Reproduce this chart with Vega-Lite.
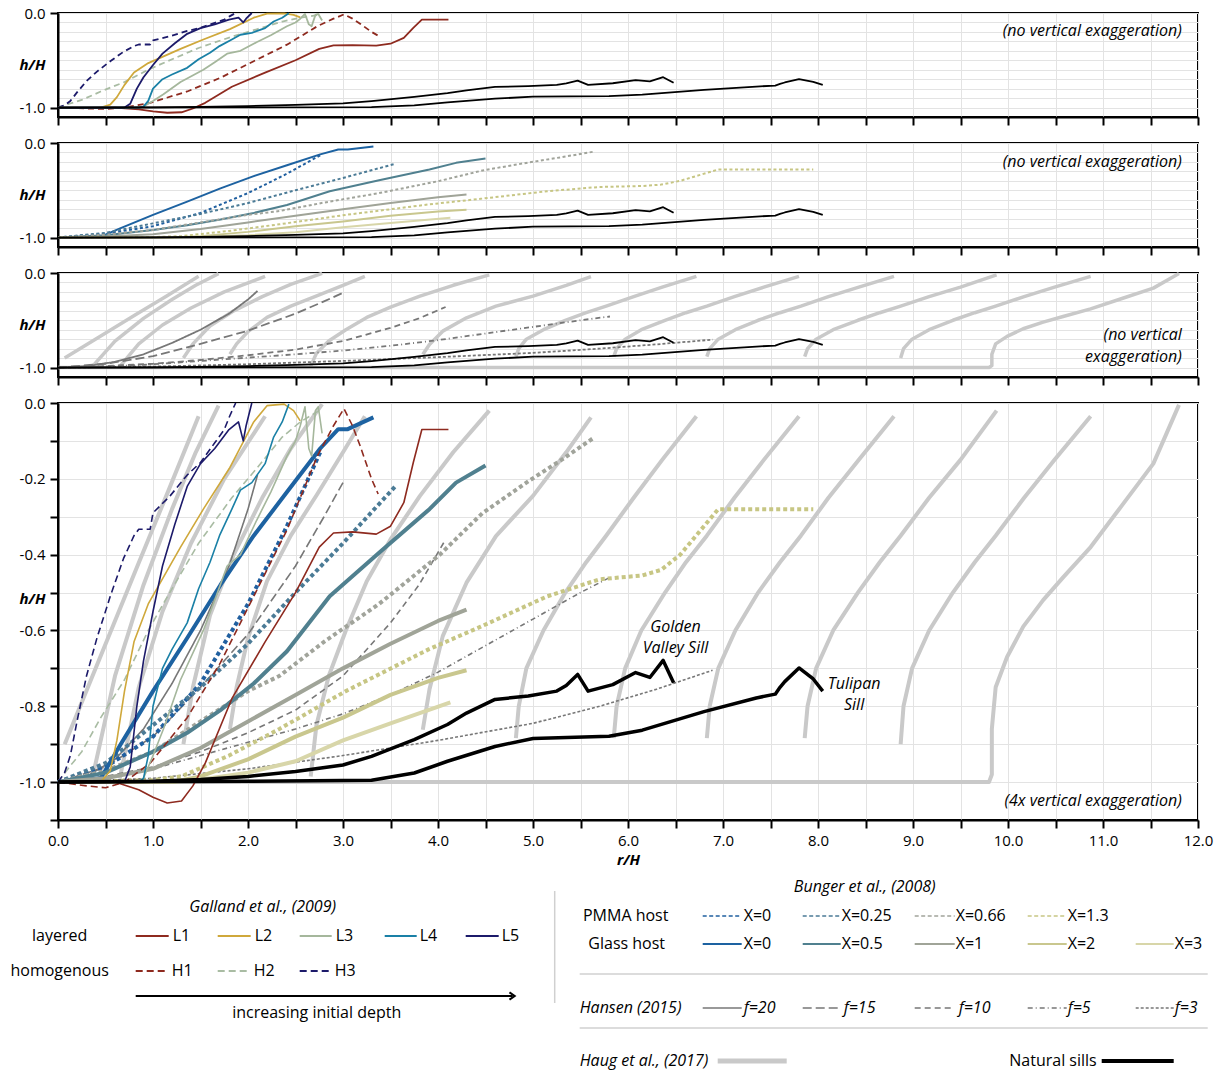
{
"$schema": "https://vega.github.io/schema/vega-lite/v6.json",
"background": "white",
"padding": {"left": 10, "top": 5, "right": 5, "bottom": 0},
"spacing": 8,
"resolve": {"scale": {"x": "independent", "y": "independent"}},
"config": {
  "font": "Open Sans",
  "view": {"stroke": "black", "strokeWidth": 2},
  "axis": {"domainColor": "black", "domainWidth": 2, "tickColor": "black", "tickWidth": 2, "tickSize": 8, "labelFont": "Open Sans", "labelFontSize": 15, "labelColor": "black", "labelPadding": 5, "labelOverlap": false, "labelFlush": false, "gridColor": "#e3e3e3", "gridWidth": 1, "titleFont": "Open Sans", "titleFontSize": 15, "titleFontStyle": "italic", "titleFontWeight": "bold", "titleColor": "black"},
  "line": {"strokeJoin": "round", "strokeCap": "butt"},
  "text": {"font": "Open Sans", "fontSize": 16, "color": "black"}
},
"datasets": {
"galL": [
{"s":"L1","r":0,"h":-1},{"s":"L1","r":0.6,"h":-1},{"s":"L1","r":0.85,"h":-1.02},{"s":"L1","r":1.0,"h":-1.04},{"s":"L1","r":1.15,"h":-1.055},{"s":"L1","r":1.3,"h":-1.05},{"s":"L1","r":1.42,"h":-1.01},{"s":"L1","r":1.55,"h":-0.95},{"s":"L1","r":1.83,"h":-0.78},{"s":"L1","r":2.18,"h":-0.63},{"s":"L1","r":2.5,"h":-0.5},{"s":"L1","r":2.75,"h":-0.38},{"s":"L1","r":2.9,"h":-0.343},{"s":"L1","r":3.1,"h":-0.34},{"s":"L1","r":3.35,"h":-0.346},{"s":"L1","r":3.5,"h":-0.325},{"s":"L1","r":3.64,"h":-0.263},{"s":"L1","r":3.74,"h":-0.157},{"s":"L1","r":3.83,"h":-0.07},{"s":"L1","r":4.11,"h":-0.07},
{"s":"L2","r":0,"h":-1},{"s":"L2","r":0.45,"h":-1},{"s":"L2","r":0.55,"h":-0.97},{"s":"L2","r":0.62,"h":-0.89},{"s":"L2","r":0.7,"h":-0.76},{"s":"L2","r":0.8,"h":-0.63},{"s":"L2","r":0.95,"h":-0.53},{"s":"L2","r":1.29,"h":-0.38},{"s":"L2","r":1.53,"h":-0.28},{"s":"L2","r":1.81,"h":-0.17},{"s":"L2","r":2.06,"h":-0.05},{"s":"L2","r":2.2,"h":-0.007},{"s":"L2","r":2.38,"h":-0.003},{"s":"L2","r":2.48,"h":-0.02},{"s":"L2","r":2.55,"h":-0.047},
{"s":"L3","r":0,"h":-1},{"s":"L3","r":0.8,"h":-1},{"s":"L3","r":0.9,"h":-0.99},{"s":"L3","r":1.0,"h":-0.93},{"s":"L3","r":1.11,"h":-0.86},{"s":"L3","r":1.29,"h":-0.73},{"s":"L3","r":1.53,"h":-0.6},{"s":"L3","r":1.65,"h":-0.52},{"s":"L3","r":1.78,"h":-0.43},{"s":"L3","r":1.92,"h":-0.4},{"s":"L3","r":2.09,"h":-0.31},{"s":"L3","r":2.24,"h":-0.235},{"s":"L3","r":2.41,"h":-0.14},{"s":"L3","r":2.5,"h":-0.1},{"s":"L3","r":2.55,"h":-0.06},{"s":"L3","r":2.6,"h":-0.01},{"s":"L3","r":2.64,"h":-0.12},{"s":"L3","r":2.67,"h":-0.14},{"s":"L3","r":2.71,"h":-0.02},{"s":"L3","r":2.74,"h":-0.01},{"s":"L3","r":2.78,"h":-0.08},
{"s":"L4","r":0,"h":-1},{"s":"L4","r":0.85,"h":-1},{"s":"L4","r":0.9,"h":-0.99},{"s":"L4","r":0.95,"h":-0.93},{"s":"L4","r":1.0,"h":-0.8},{"s":"L4","r":1.1,"h":-0.7},{"s":"L4","r":1.2,"h":-0.65},{"s":"L4","r":1.36,"h":-0.58},{"s":"L4","r":1.48,"h":-0.49},{"s":"L4","r":1.6,"h":-0.42},{"s":"L4","r":1.7,"h":-0.35},{"s":"L4","r":1.83,"h":-0.28},{"s":"L4","r":1.92,"h":-0.23},{"s":"L4","r":2.04,"h":-0.21},{"s":"L4","r":2.18,"h":-0.16},{"s":"L4","r":2.27,"h":-0.09},{"s":"L4","r":2.36,"h":-0.05},{"s":"L4","r":2.43,"h":-0.003},
{"s":"L5","r":0,"h":-1},{"s":"L5","r":0.7,"h":-1},{"s":"L5","r":0.76,"h":-0.96},{"s":"L5","r":0.83,"h":-0.8},{"s":"L5","r":0.9,"h":-0.68},{"s":"L5","r":1.0,"h":-0.55},{"s":"L5","r":1.1,"h":-0.43},{"s":"L5","r":1.23,"h":-0.32},{"s":"L5","r":1.36,"h":-0.22},{"s":"L5","r":1.5,"h":-0.16},{"s":"L5","r":1.65,"h":-0.12},{"s":"L5","r":1.8,"h":-0.07},{"s":"L5","r":1.9,"h":-0.05},{"s":"L5","r":1.95,"h":-0.1},{"s":"L5","r":1.98,"h":-0.06},{"s":"L5","r":2.04,"h":0}
],
"galH": [
{"s":"H1","r":0,"h":-1},{"s":"H1","r":0.3,"h":-1.01},{"s":"H1","r":0.5,"h":-1.015},{"s":"H1","r":0.7,"h":-1.0},{"s":"H1","r":0.97,"h":-0.95},{"s":"H1","r":1.36,"h":-0.83},{"s":"H1","r":1.71,"h":-0.685},{"s":"H1","r":2.06,"h":-0.51},{"s":"H1","r":2.41,"h":-0.335},{"s":"H1","r":2.73,"h":-0.14},{"s":"H1","r":2.9,"h":-0.06},{"s":"H1","r":3.01,"h":-0.015},{"s":"H1","r":3.1,"h":-0.06},{"s":"H1","r":3.18,"h":-0.113},{"s":"H1","r":3.3,"h":-0.2},{"s":"H1","r":3.37,"h":-0.24},
{"s":"H2","r":0,"h":-1},{"s":"H2","r":0.12,"h":-0.96},{"s":"H2","r":0.25,"h":-0.92},{"s":"H2","r":0.45,"h":-0.83},{"s":"H2","r":0.7,"h":-0.73},{"s":"H2","r":0.95,"h":-0.6},{"s":"H2","r":1.13,"h":-0.52},{"s":"H2","r":1.48,"h":-0.37},{"s":"H2","r":1.83,"h":-0.25},{"s":"H2","r":2.1,"h":-0.17},{"s":"H2","r":2.36,"h":-0.09},{"s":"H2","r":2.55,"h":-0.05},{"s":"H2","r":2.75,"h":-0.02},
{"s":"H3","r":0,"h":-1},{"s":"H3","r":0.07,"h":-0.975},{"s":"H3","r":0.13,"h":-0.93},{"s":"H3","r":0.2,"h":-0.84},{"s":"H3","r":0.3,"h":-0.72},{"s":"H3","r":0.41,"h":-0.62},{"s":"H3","r":0.55,"h":-0.51},{"s":"H3","r":0.69,"h":-0.41},{"s":"H3","r":0.8,"h":-0.35},{"s":"H3","r":0.85,"h":-0.333},{"s":"H3","r":0.97,"h":-0.333},{"s":"H3","r":1.0,"h":-0.29},{"s":"H3","r":1.18,"h":-0.245},{"s":"H3","r":1.36,"h":-0.19},{"s":"H3","r":1.5,"h":-0.157},{"s":"H3","r":1.65,"h":-0.105},{"s":"H3","r":1.75,"h":-0.07},{"s":"H3","r":1.81,"h":-0.033},{"s":"H3","r":1.87,"h":0}
],
"pmma": [
{"s":"P0","r":0,"h":-1},{"s":"P0","r":0.5,"h":-0.96},{"s":"P0","r":1.0,"h":-0.88},{"s":"P0","r":1.5,"h":-0.74},{"s":"P0","r":2.0,"h":-0.53},{"s":"P0","r":2.4,"h":-0.33},{"s":"P0","r":2.76,"h":-0.13},
{"s":"P025","r":0,"h":-1},{"s":"P025","r":0.5,"h":-0.95},{"s":"P025","r":1.0,"h":-0.85},{"s":"P025","r":1.5,"h":-0.75},{"s":"P025","r":2.0,"h":-0.635},{"s":"P025","r":2.5,"h":-0.5},{"s":"P025","r":3.0,"h":-0.37},{"s":"P025","r":3.55,"h":-0.22},
{"s":"P066","r":0,"h":-1},{"s":"P066","r":0.5,"h":-0.97},{"s":"P066","r":1.0,"h":-0.92},{"s":"P066","r":1.5,"h":-0.84},{"s":"P066","r":2.0,"h":-0.76},{"s":"P066","r":2.33,"h":-0.72},{"s":"P066","r":2.8,"h":-0.63},{"s":"P066","r":3.38,"h":-0.53},{"s":"P066","r":4.02,"h":-0.4},{"s":"P066","r":4.47,"h":-0.29},{"s":"P066","r":4.96,"h":-0.205},{"s":"P066","r":5.3,"h":-0.15},{"s":"P066","r":5.65,"h":-0.09},
{"s":"P13","r":0,"h":-1},{"s":"P13","r":1.0,"h":-0.995},{"s":"P13","r":1.3,"h":-0.985},{"s":"P13","r":1.8,"h":-0.93},{"s":"P13","r":2.33,"h":-0.86},{"s":"P13","r":3.03,"h":-0.76},{"s":"P13","r":3.9,"h":-0.65},{"s":"P13","r":4.45,"h":-0.59},{"s":"P13","r":5.15,"h":-0.51},{"s":"P13","r":5.7,"h":-0.465},{"s":"P13","r":6.15,"h":-0.455},{"s":"P13","r":6.35,"h":-0.44},{"s":"P13","r":6.55,"h":-0.4},{"s":"P13","r":6.75,"h":-0.34},{"s":"P13","r":6.95,"h":-0.28},{"s":"P13","r":7.95,"h":-0.28}
],
"glass": [
{"s":"G0","r":0,"h":-1},{"s":"G0","r":0.45,"h":-0.99},{"s":"G0","r":0.66,"h":-0.9},{"s":"G0","r":1.0,"h":-0.76},{"s":"G0","r":1.36,"h":-0.62},{"s":"G0","r":1.71,"h":-0.48},{"s":"G0","r":2.06,"h":-0.35},{"s":"G0","r":2.41,"h":-0.235},{"s":"G0","r":2.76,"h":-0.12},{"s":"G0","r":2.95,"h":-0.069},{"s":"G0","r":3.05,"h":-0.069},{"s":"G0","r":3.32,"h":-0.038},
{"s":"G05","r":0,"h":-1},{"s":"G05","r":0.5,"h":-0.975},{"s":"G05","r":1.0,"h":-0.92},{"s":"G05","r":1.36,"h":-0.87},{"s":"G05","r":1.71,"h":-0.81},{"s":"G05","r":2.06,"h":-0.74},{"s":"G05","r":2.41,"h":-0.655},{"s":"G05","r":2.86,"h":-0.51},{"s":"G05","r":3.38,"h":-0.395},{"s":"G05","r":3.91,"h":-0.28},{"s":"G05","r":4.19,"h":-0.21},{"s":"G05","r":4.5,"h":-0.165},
{"s":"G1","r":0,"h":-1},{"s":"G1","r":0.5,"h":-0.99},{"s":"G1","r":1.0,"h":-0.965},{"s":"G1","r":1.5,"h":-0.91},{"s":"G1","r":2.0,"h":-0.84},{"s":"G1","r":2.5,"h":-0.77},{"s":"G1","r":3.0,"h":-0.7},{"s":"G1","r":3.5,"h":-0.635},{"s":"G1","r":4.0,"h":-0.575},{"s":"G1","r":4.3,"h":-0.545},
{"s":"G2","r":0,"h":-1},{"s":"G2","r":1.2,"h":-1},{"s":"G2","r":1.5,"h":-0.985},{"s":"G2","r":2.0,"h":-0.94},{"s":"G2","r":2.5,"h":-0.88},{"s":"G2","r":3.0,"h":-0.83},{"s":"G2","r":3.5,"h":-0.77},{"s":"G2","r":4.0,"h":-0.725},{"s":"G2","r":4.3,"h":-0.705},
{"s":"G3","r":0,"h":-1},{"s":"G3","r":1.2,"h":-1},{"s":"G3","r":1.6,"h":-0.99},{"s":"G3","r":2.0,"h":-0.975},{"s":"G3","r":2.5,"h":-0.945},{"s":"G3","r":3.0,"h":-0.89},{"s":"G3","r":3.5,"h":-0.845},{"s":"G3","r":4.13,"h":-0.79}
],
"hansen": [
{"s":"f20","r":0,"h":-1},{"s":"f20","r":0.3,"h":-0.985},{"s":"f20","r":0.6,"h":-0.94},{"s":"f20","r":0.9,"h":-0.86},{"s":"f20","r":1.2,"h":-0.74},{"s":"f20","r":1.5,"h":-0.6},{"s":"f20","r":1.8,"h":-0.43},{"s":"f20","r":2.0,"h":-0.28},{"s":"f20","r":2.1,"h":-0.19},
{"s":"f15","r":0,"h":-1},{"s":"f15","r":0.5,"h":-0.96},{"s":"f15","r":1.0,"h":-0.88},{"s":"f15","r":1.5,"h":-0.75},{"s":"f15","r":2.0,"h":-0.61},{"s":"f15","r":2.5,"h":-0.43},{"s":"f15","r":2.8,"h":-0.3},{"s":"f15","r":3.0,"h":-0.21},
{"s":"f10","r":0,"h":-1},{"s":"f10","r":0.5,"h":-0.985},{"s":"f10","r":1.0,"h":-0.96},{"s":"f10","r":1.5,"h":-0.92},{"s":"f10","r":2.0,"h":-0.87},{"s":"f10","r":2.5,"h":-0.81},{"s":"f10","r":3.0,"h":-0.72},{"s":"f10","r":3.5,"h":-0.58},{"s":"f10","r":3.8,"h":-0.48},{"s":"f10","r":4.08,"h":-0.36},
{"s":"f5","r":0,"h":-1},{"s":"f5","r":0.5,"h":-0.99},{"s":"f5","r":1.0,"h":-0.965},{"s":"f5","r":1.5,"h":-0.93},{"s":"f5","r":2.0,"h":-0.895},{"s":"f5","r":2.5,"h":-0.86},{"s":"f5","r":3.0,"h":-0.82},{"s":"f5","r":3.5,"h":-0.77},{"s":"f5","r":4.0,"h":-0.71},{"s":"f5","r":4.5,"h":-0.64},{"s":"f5","r":5.0,"h":-0.57},{"s":"f5","r":5.5,"h":-0.5},{"s":"f5","r":5.81,"h":-0.46},
{"s":"f3","r":0,"h":-1},{"s":"f3","r":1.0,"h":-0.99},{"s":"f3","r":2.0,"h":-0.965},{"s":"f3","r":3.0,"h":-0.93},{"s":"f3","r":4.0,"h":-0.89},{"s":"f3","r":5.0,"h":-0.845},{"s":"f3","r":5.7,"h":-0.8},{"s":"f3","r":6.3,"h":-0.755},{"s":"f3","r":6.89,"h":-0.705}
],
"haug": [
{"s":"hg1","r":0.07,"h":-0.9},{"s":"hg1","r":0.42,"h":-0.685},{"s":"hg1","r":0.82,"h":-0.44},{"s":"hg1","r":1.14,"h":-0.245},{"s":"hg1","r":1.48,"h":-0.035},
{"s":"hg2","r":0.37,"h":-0.98},{"s":"hg2","r":0.6,"h":-0.72},{"s":"hg2","r":0.9,"h":-0.48},{"s":"hg2","r":1.2,"h":-0.28},{"s":"hg2","r":1.45,"h":-0.13},{"s":"hg2","r":1.69,"h":-0.007},
{"s":"hg3","r":0.65,"h":-0.99},{"s":"hg3","r":0.85,"h":-0.75},{"s":"hg3","r":1.1,"h":-0.55},{"s":"hg3","r":1.4,"h":-0.37},{"s":"hg3","r":1.75,"h":-0.2},{"s":"hg3","r":2.18,"h":-0.035},
{"s":"hg4","r":1.32,"h":-0.9},{"s":"hg4","r":1.42,"h":-0.75},{"s":"hg4","r":1.6,"h":-0.56},{"s":"hg4","r":1.85,"h":-0.4},{"s":"hg4","r":2.15,"h":-0.25},{"s":"hg4","r":2.45,"h":-0.12},{"s":"hg4","r":2.78,"h":-0.003},
{"s":"hg5","r":1.81,"h":-0.86},{"s":"hg5","r":1.88,"h":-0.75},{"s":"hg5","r":2.0,"h":-0.62},{"s":"hg5","r":2.2,"h":-0.47},{"s":"hg5","r":2.45,"h":-0.35},{"s":"hg5","r":2.73,"h":-0.24},{"s":"hg5","r":3.0,"h":-0.13},{"s":"hg5","r":3.23,"h":-0.035},
{"s":"hg6","r":2.66,"h":-0.985},{"s":"hg6","r":2.72,"h":-0.85},{"s":"hg6","r":2.85,"h":-0.72},{"s":"hg6","r":3.03,"h":-0.6},{"s":"hg6","r":3.25,"h":-0.47},{"s":"hg6","r":3.5,"h":-0.36},{"s":"hg6","r":3.81,"h":-0.245},{"s":"hg6","r":4.16,"h":-0.13},{"s":"hg6","r":4.54,"h":-0.02},
{"s":"hg7","r":3.84,"h":-0.862},{"s":"hg7","r":3.91,"h":-0.756},{"s":"hg7","r":4.05,"h":-0.615},{"s":"hg7","r":4.3,"h":-0.474},{"s":"hg7","r":4.61,"h":-0.351},{"s":"hg7","r":5.0,"h":-0.245},{"s":"hg7","r":5.35,"h":-0.13},{"s":"hg7","r":5.61,"h":-0.038},
{"s":"hg8","r":4.82,"h":-0.884},{"s":"hg8","r":4.85,"h":-0.8},{"s":"hg8","r":4.93,"h":-0.7},{"s":"hg8","r":5.11,"h":-0.6},{"s":"hg8","r":5.34,"h":-0.5},{"s":"hg8","r":5.56,"h":-0.42},{"s":"hg8","r":5.77,"h":-0.35},{"s":"hg8","r":6.06,"h":-0.25},{"s":"hg8","r":6.36,"h":-0.15},{"s":"hg8","r":6.72,"h":-0.035},
{"s":"hg9","r":5.85,"h":-0.884},{"s":"hg9","r":5.88,"h":-0.8},{"s":"hg9","r":5.97,"h":-0.7},{"s":"hg9","r":6.14,"h":-0.6},{"s":"hg9","r":6.39,"h":-0.5},{"s":"hg9","r":6.61,"h":-0.42},{"s":"hg9","r":6.83,"h":-0.35},{"s":"hg9","r":7.12,"h":-0.25},{"s":"hg9","r":7.43,"h":-0.15},{"s":"hg9","r":7.8,"h":-0.035},
{"s":"hg10","r":6.83,"h":-0.884},{"s":"hg10","r":6.86,"h":-0.8},{"s":"hg10","r":6.95,"h":-0.7},{"s":"hg10","r":7.13,"h":-0.6},{"s":"hg10","r":7.37,"h":-0.5},{"s":"hg10","r":7.6,"h":-0.42},{"s":"hg10","r":7.82,"h":-0.35},{"s":"hg10","r":8.11,"h":-0.25},{"s":"hg10","r":8.43,"h":-0.15},{"s":"hg10","r":8.8,"h":-0.035},
{"s":"hg11","r":7.86,"h":-0.884},{"s":"hg11","r":7.89,"h":-0.8},{"s":"hg11","r":7.98,"h":-0.7},{"s":"hg11","r":8.16,"h":-0.6},{"s":"hg11","r":8.42,"h":-0.5},{"s":"hg11","r":8.65,"h":-0.42},{"s":"hg11","r":8.87,"h":-0.35},{"s":"hg11","r":9.17,"h":-0.25},{"s":"hg11","r":9.5,"h":-0.15},{"s":"hg11","r":9.88,"h":-0.02},
{"s":"hg12","r":8.87,"h":-0.9},{"s":"hg12","r":8.9,"h":-0.8},{"s":"hg12","r":8.99,"h":-0.7},{"s":"hg12","r":9.17,"h":-0.6},{"s":"hg12","r":9.42,"h":-0.5},{"s":"hg12","r":9.65,"h":-0.42},{"s":"hg12","r":9.87,"h":-0.35},{"s":"hg12","r":10.17,"h":-0.25},{"s":"hg12","r":10.49,"h":-0.15},{"s":"hg12","r":10.87,"h":-0.035},
{"s":"hg13","r":0,"h":-1},{"s":"hg13","r":9.8,"h":-1},{"s":"hg13","r":9.83,"h":-0.98},{"s":"hg13","r":9.83,"h":-0.86},{"s":"hg13","r":9.87,"h":-0.75},{"s":"hg13","r":9.99,"h":-0.67},{"s":"hg13","r":10.16,"h":-0.59},{"s":"hg13","r":10.37,"h":-0.52},{"s":"hg13","r":10.58,"h":-0.46},{"s":"hg13","r":10.87,"h":-0.38},{"s":"hg13","r":11.2,"h":-0.27},{"s":"hg13","r":11.53,"h":-0.16},{"s":"hg13","r":11.8,"h":-0.005}
],
"nat": [
{"s":"GV","r":0,"h":-1},{"s":"GV","r":1.0,"h":-0.998},{"s":"GV","r":1.5,"h":-0.993},{"s":"GV","r":2.0,"h":-0.985},{"s":"GV","r":2.5,"h":-0.972},{"s":"GV","r":3.0,"h":-0.955},{"s":"GV","r":3.3,"h":-0.932},{"s":"GV","r":3.75,"h":-0.888},{"s":"GV","r":4.1,"h":-0.848},{"s":"GV","r":4.3,"h":-0.818},{"s":"GV","r":4.6,"h":-0.782},{"s":"GV","r":4.95,"h":-0.773},{"s":"GV","r":5.25,"h":-0.76},{"s":"GV","r":5.35,"h":-0.745},{"s":"GV","r":5.47,"h":-0.716},{"s":"GV","r":5.58,"h":-0.76},{"s":"GV","r":5.84,"h":-0.743},{"s":"GV","r":6.08,"h":-0.711},{"s":"GV","r":6.23,"h":-0.724},{"s":"GV","r":6.37,"h":-0.679},{"s":"GV","r":6.48,"h":-0.738},
{"s":"TU","r":0,"h":-1},{"s":"TU","r":2.0,"h":-0.998},{"s":"TU","r":3.3,"h":-0.995},{"s":"TU","r":3.75,"h":-0.976},{"s":"TU","r":4.1,"h":-0.945},{"s":"TU","r":4.6,"h":-0.906},{"s":"TU","r":5.0,"h":-0.885},{"s":"TU","r":5.8,"h":-0.879},{"s":"TU","r":6.15,"h":-0.863},{"s":"TU","r":6.8,"h":-0.814},{"s":"TU","r":7.35,"h":-0.778},{"s":"TU","r":7.55,"h":-0.768},{"s":"TU","r":7.6,"h":-0.75},{"s":"TU","r":7.65,"h":-0.735},{"s":"TU","r":7.8,"h":-0.699},{"s":"TU","r":7.95,"h":-0.728},{"s":"TU","r":8.05,"h":-0.76}
],
"llC": [
{"s":"L1","lx":137,"ly":935},{"s":"L1","lx":170,"ly":935},{"s":"L2","lx":219,"ly":935},{"s":"L2","lx":252,"ly":935},{"s":"L3","lx":301,"ly":935},{"s":"L3","lx":333,"ly":935},{"s":"L4","lx":386,"ly":935},{"s":"L4","lx":418,"ly":935},{"s":"L5","lx":467,"ly":935},{"s":"L5","lx":500,"ly":935},
{"s":"G0","lx":704,"ly":943},{"s":"G0","lx":743,"ly":943},{"s":"G05","lx":804,"ly":943},{"s":"G05","lx":842,"ly":943},{"s":"G1","lx":916,"ly":943},{"s":"G1","lx":956,"ly":943},{"s":"G2","lx":1029,"ly":943},{"s":"G2","lx":1068,"ly":943},{"s":"G3","lx":1137,"ly":943},{"s":"G3","lx":1175,"ly":943}
],
"llH": [
{"s":"H1","lx":137,"ly":970},{"s":"H1","lx":170,"ly":970},{"s":"H2","lx":219,"ly":970},{"s":"H2","lx":252,"ly":970},{"s":"H3","lx":301,"ly":970},{"s":"H3","lx":333,"ly":970}
],
"llP": [
{"s":"P0","lx":704,"ly":915},{"s":"P0","lx":743,"ly":915},{"s":"P025","lx":804,"ly":915},{"s":"P025","lx":842,"ly":915},{"s":"P066","lx":916,"ly":915},{"s":"P066","lx":956,"ly":915},{"s":"P13","lx":1029,"ly":915},{"s":"P13","lx":1068,"ly":915}
],
"llF": [
{"s":"f20","lx":704,"ly":1007},{"s":"f20","lx":743,"ly":1007},{"s":"f15","lx":804,"ly":1007},{"s":"f15","lx":842,"ly":1007},{"s":"f10","lx":916,"ly":1007},{"s":"f10","lx":956,"ly":1007},{"s":"f5","lx":1029,"ly":1007},{"s":"f5","lx":1068,"ly":1007},{"s":"f3","lx":1137,"ly":1007},{"s":"f3","lx":1175,"ly":1007}
],
"llHaug": [{"s":"haug","lx":719,"ly":1060},{"s":"haug","lx":788,"ly":1060}],
"llNat": [{"s":"nat","lx":1103,"ly":1060},{"s":"nat","lx":1175,"ly":1060}],
"ltL": [
{"t":"L1","lx":174,"ly":935},{"t":"L2","lx":256,"ly":935},{"t":"L3","lx":337,"ly":935},{"t":"L4","lx":421,"ly":935},{"t":"L5","lx":503,"ly":935},
{"t":"H1","lx":173,"ly":970},{"t":"H2","lx":255,"ly":970},{"t":"H3","lx":336,"ly":970},
{"t":"X=0","lx":745,"ly":915},{"t":"X=0.25","lx":843,"ly":915},{"t":"X=0.66","lx":957,"ly":915},{"t":"X=1.3","lx":1069,"ly":915},
{"t":"X=0","lx":745,"ly":943},{"t":"X=0.5","lx":843,"ly":943},{"t":"X=1","lx":957,"ly":943},{"t":"X=2","lx":1069,"ly":943},{"t":"X=3","lx":1176,"ly":943}
],
"ltR": [{"t":"Natural sills","lx":1098,"ly":1060}],
"ltC": [
{"t":"layered","lx":61,"ly":935},{"t":"homogenous","lx":61,"ly":970},{"t":"increasing initial depth","lx":318,"ly":1012},{"t":"PMMA host","lx":627,"ly":915},{"t":"Glass host","lx":628,"ly":943}
],
"ltIC": [
{"t":"Galland et al., (2009)","lx":264,"ly":906},{"t":"Bunger et al., (2008)","lx":866,"ly":886}
],
"ltIL": [
{"t":"Hansen (2015)","lx":581,"ly":1007},{"t":"f=20","lx":745,"ly":1007},{"t":"f=15","lx":845,"ly":1007},{"t":"f=10","lx":960,"ly":1007},{"t":"f=5","lx":1069,"ly":1007},{"t":"f=3","lx":1176,"ly":1007},{"t":"Haug et al., (2017)","lx":581,"ly":1060}
],
"lSep": [
{"lx":556,"ly":890,"lx2":556,"ly2":1002},{"lx":581,"ly":973,"lx2":1209,"ly2":973},{"lx":581,"ly":1027,"lx2":1209,"ly2":1027}
],
"lArrow": [{"lx":137,"ly":995,"lx2":514,"ly2":995}],
"lHead": [{"lx":516,"ly":995}]
},
"vconcat": [
{
 "width": 1140, "height": 104,
 "encoding": {
  "x": {"field":"r","type":"quantitative","scale":{"domain":[0,12],"nice":false,"zero":false},"axis":{"values":[0,0.5,1,1.5,2,2.5,3,3.5,4,4.5,5,5.5,6,6.5,7,7.5,8,8.5,9,9.5,10,10.5,11,11.5,12],"labels":false,"title":null}},
  "y": {"field":"h","type":"quantitative","scale":{"domain":[-1.1,0],"nice":false,"zero":false},"axis":{"values":[0,-0.1,-0.2,-0.3,-0.4,-0.5,-0.6,-0.7,-0.8,-0.9,-1,-1.1],"labelExpr":"(datum.value==0||datum.value==-1)?replace(format(datum.value,'.1f'),'\u2212','-'):''","tickOpacity":{"condition":{"test":"datum.value==0||datum.value==-1","value":1},"value":0},"title":"h/H","titleAngle":0,"titleX":-26,"titleY":51,"titleAlign":"center","titleBaseline":"middle"}}
 },
 "layer": [
  {"data":{"name":"galH"},"mark":{"type":"line","strokeWidth":1.8,"strokeDash":[6,4]},"encoding":{"color":{"field":"s","type":"nominal","legend":null,"scale":{"domain":["L1","L2","L3","L4","L5","H1","H2","H3","P0","P025","P066","P13","G0","G05","G1","G2","G3"],"range":["#8e2a1f","#cfa83b","#a5b79c","#1a80a6","#1c1a6a","#8e2a1f","#a9bca3","#1c1a6a","#2160a0","#4b7b96","#a1a49b","#c7c684","#1d62a1","#50808f","#a0a498","#c9c78e","#d8d6a9"]}},"order":{"value":null}}},
  {"data":{"name":"galL"},"mark":{"type":"line","strokeWidth":1.8},"encoding":{"color":{"field":"s","type":"nominal","legend":null,"scale":{"domain":["L1","L2","L3","L4","L5","H1","H2","H3","P0","P025","P066","P13","G0","G05","G1","G2","G3"],"range":["#8e2a1f","#cfa83b","#a5b79c","#1a80a6","#1c1a6a","#8e2a1f","#a9bca3","#1c1a6a","#2160a0","#4b7b96","#a1a49b","#c7c684","#1d62a1","#50808f","#a0a498","#c9c78e","#d8d6a9"]}},"order":{"value":null}}},
  {"data":{"name":"nat"},"mark":{"type":"line","strokeWidth":1.8,"color":"black"},"encoding":{"detail":{"field":"s"},"order":{"value":null}}},
  {"data":{"values":[{"r":11.83,"h":-0.19,"t":"(no vertical exaggeration)"}]},"mark":{"type":"text","align":"right","baseline":"middle","fontStyle":"italic","fontSize":16},"encoding":{"text":{"field":"t"}}}
 ]
},
{
 "width": 1140, "height": 104,
 "encoding": {
  "x": {"field":"r","type":"quantitative","scale":{"domain":[0,12],"nice":false,"zero":false},"axis":{"values":[0,0.5,1,1.5,2,2.5,3,3.5,4,4.5,5,5.5,6,6.5,7,7.5,8,8.5,9,9.5,10,10.5,11,11.5,12],"labels":false,"title":null}},
  "y": {"field":"h","type":"quantitative","scale":{"domain":[-1.1,0],"nice":false,"zero":false},"axis":{"values":[0,-0.1,-0.2,-0.3,-0.4,-0.5,-0.6,-0.7,-0.8,-0.9,-1,-1.1],"labelExpr":"(datum.value==0||datum.value==-1)?replace(format(datum.value,'.1f'),'\u2212','-'):''","tickOpacity":{"condition":{"test":"datum.value==0||datum.value==-1","value":1},"value":0},"title":"h/H","titleAngle":0,"titleX":-26,"titleY":51,"titleAlign":"center","titleBaseline":"middle"}}
 },
 "layer": [
  {"data":{"name":"glass"},"mark":{"type":"line","strokeWidth":2},"encoding":{"color":{"field":"s","type":"nominal","legend":null,"scale":{"domain":["L1","L2","L3","L4","L5","H1","H2","H3","P0","P025","P066","P13","G0","G05","G1","G2","G3"],"range":["#8e2a1f","#cfa83b","#a5b79c","#1a80a6","#1c1a6a","#8e2a1f","#a9bca3","#1c1a6a","#2160a0","#4b7b96","#a1a49b","#c7c684","#1d62a1","#50808f","#a0a498","#c9c78e","#d8d6a9"]}},"order":{"value":null}}},
  {"data":{"name":"pmma"},"mark":{"type":"line","strokeWidth":2,"strokeDash":[3,2.5]},"encoding":{"color":{"field":"s","type":"nominal","legend":null,"scale":{"domain":["L1","L2","L3","L4","L5","H1","H2","H3","P0","P025","P066","P13","G0","G05","G1","G2","G3"],"range":["#8e2a1f","#cfa83b","#a5b79c","#1a80a6","#1c1a6a","#8e2a1f","#a9bca3","#1c1a6a","#2160a0","#4b7b96","#a1a49b","#c7c684","#1d62a1","#50808f","#a0a498","#c9c78e","#d8d6a9"]}},"order":{"value":null}}},
  {"data":{"name":"nat"},"mark":{"type":"line","strokeWidth":1.8,"color":"black"},"encoding":{"detail":{"field":"s"},"order":{"value":null}}},
  {"data":{"values":[{"r":11.83,"h":-0.2,"t":"(no vertical exaggeration)"}]},"mark":{"type":"text","align":"right","baseline":"middle","fontStyle":"italic","fontSize":16},"encoding":{"text":{"field":"t"}}}
 ]
},
{
 "width": 1140, "height": 104,
 "encoding": {
  "x": {"field":"r","type":"quantitative","scale":{"domain":[0,12],"nice":false,"zero":false},"axis":{"values":[0,0.5,1,1.5,2,2.5,3,3.5,4,4.5,5,5.5,6,6.5,7,7.5,8,8.5,9,9.5,10,10.5,11,11.5,12],"labels":false,"title":null}},
  "y": {"field":"h","type":"quantitative","scale":{"domain":[-1.1,0],"nice":false,"zero":false},"axis":{"values":[0,-0.1,-0.2,-0.3,-0.4,-0.5,-0.6,-0.7,-0.8,-0.9,-1,-1.1],"labelExpr":"(datum.value==0||datum.value==-1)?replace(format(datum.value,'.1f'),'\u2212','-'):''","tickOpacity":{"condition":{"test":"datum.value==0||datum.value==-1","value":1},"value":0},"title":"h/H","titleAngle":0,"titleX":-26,"titleY":51,"titleAlign":"center","titleBaseline":"middle"}}
 },
 "layer": [
  {"data":{"name":"haug"},"mark":{"type":"line","strokeWidth":3.5,"color":"#c9c9c9"},"encoding":{"detail":{"field":"s"},"order":{"value":null}}},
  {"data":{"name":"hansen"},"mark":{"type":"line","strokeWidth":1.8,"color":"#777777"},"encoding":{"strokeDash":{"field":"s","type":"nominal","legend":null,"scale":{"domain":["f20","f15","f10","f5","f3"],"range":[[1,0],[9,4],[6,4],[5,3,1,3],[3,2]]}},"order":{"value":null}}},
  {"data":{"name":"nat"},"mark":{"type":"line","strokeWidth":1.8,"color":"black"},"encoding":{"detail":{"field":"s"},"order":{"value":null}}},
  {"data":{"values":[{"r":11.83,"h":-0.66,"t":"(no vertical\nexaggeration)"}]},"mark":{"type":"text","align":"right","baseline":"middle","fontStyle":"italic","fontSize":16,"lineBreak":"\n","lineHeight":22},"encoding":{"text":{"field":"t"}}}
 ]
},
{
 "width": 1140, "height": 417,
 "encoding": {
  "x": {"field":"r","type":"quantitative","scale":{"domain":[0,12],"nice":false,"zero":false},"axis":{"values":[0,0.5,1,1.5,2,2.5,3,3.5,4,4.5,5,5.5,6,6.5,7,7.5,8,8.5,9,9.5,10,10.5,11,11.5,12],"labelExpr":"datum.value%1==0?format(datum.value,'.1f'):''","title":"r/H","titlePadding":4,"labelPadding":5}},
  "y": {"field":"h","type":"quantitative","scale":{"domain":[-1.1,0],"nice":false,"zero":false},"axis":{"values":[0,-0.1,-0.2,-0.3,-0.4,-0.5,-0.6,-0.7,-0.8,-0.9,-1,-1.1],"labelExpr":"(round(datum.value*10)%2==0&&datum.value>-1.05)?replace(format(datum.value,'.1f'),'\u2212','-'):''","title":"h/H","titleAngle":0,"titleX":-26,"titleY":195,"titleAlign":"center","titleBaseline":"middle"}}
 },
 "layer": [
  {"data":{"name":"haug"},"mark":{"type":"line","strokeWidth":4,"color":"#c9c9c9"},"encoding":{"detail":{"field":"s"},"order":{"value":null}}},
  {"data":{"name":"hansen"},"mark":{"type":"line","strokeWidth":1.6,"color":"#777777"},"encoding":{"strokeDash":{"field":"s","type":"nominal","legend":null,"scale":{"domain":["f20","f15","f10","f5","f3"],"range":[[1,0],[9,4],[6,4],[5,3,1,3],[3,2]]}},"order":{"value":null}}},
  {"data":{"name":"pmma"},"mark":{"type":"line","strokeWidth":4,"strokeDash":[4,3]},"encoding":{"color":{"field":"s","type":"nominal","legend":null,"scale":{"domain":["L1","L2","L3","L4","L5","H1","H2","H3","P0","P025","P066","P13","G0","G05","G1","G2","G3"],"range":["#8e2a1f","#cfa83b","#a5b79c","#1a80a6","#1c1a6a","#8e2a1f","#a9bca3","#1c1a6a","#2160a0","#4b7b96","#a1a49b","#c7c684","#1d62a1","#50808f","#a0a498","#c9c78e","#d8d6a9"]}},"order":{"value":null}}},
  {"data":{"name":"glass"},"mark":{"type":"line","strokeWidth":4},"encoding":{"color":{"field":"s","type":"nominal","legend":null,"scale":{"domain":["L1","L2","L3","L4","L5","H1","H2","H3","P0","P025","P066","P13","G0","G05","G1","G2","G3"],"range":["#8e2a1f","#cfa83b","#a5b79c","#1a80a6","#1c1a6a","#8e2a1f","#a9bca3","#1c1a6a","#2160a0","#4b7b96","#a1a49b","#c7c684","#1d62a1","#50808f","#a0a498","#c9c78e","#d8d6a9"]}},"order":{"value":null}}},
  {"data":{"name":"galH"},"mark":{"type":"line","strokeWidth":1.6,"strokeDash":[7,4]},"encoding":{"color":{"field":"s","type":"nominal","legend":null,"scale":{"domain":["L1","L2","L3","L4","L5","H1","H2","H3","P0","P025","P066","P13","G0","G05","G1","G2","G3"],"range":["#8e2a1f","#cfa83b","#a5b79c","#1a80a6","#1c1a6a","#8e2a1f","#a9bca3","#1c1a6a","#2160a0","#4b7b96","#a1a49b","#c7c684","#1d62a1","#50808f","#a0a498","#c9c78e","#d8d6a9"]}},"order":{"value":null}}},
  {"data":{"name":"galL"},"mark":{"type":"line","strokeWidth":1.6},"encoding":{"color":{"field":"s","type":"nominal","legend":null,"scale":{"domain":["L1","L2","L3","L4","L5","H1","H2","H3","P0","P025","P066","P13","G0","G05","G1","G2","G3"],"range":["#8e2a1f","#cfa83b","#a5b79c","#1a80a6","#1c1a6a","#8e2a1f","#a9bca3","#1c1a6a","#2160a0","#4b7b96","#a1a49b","#c7c684","#1d62a1","#50808f","#a0a498","#c9c78e","#d8d6a9"]}},"order":{"value":null}}},
  {"data":{"name":"nat"},"mark":{"type":"line","strokeWidth":3.5,"color":"black"},"encoding":{"detail":{"field":"s"},"order":{"value":null}}},
  {"data":{"values":[{"r":6.5,"h":-0.59,"t":"Golden\nValley Sill"},{"r":8.38,"h":-0.74,"t":"Tulipan\nSill"}]},"mark":{"type":"text","align":"center","baseline":"middle","fontStyle":"italic","fontSize":16,"lineBreak":"\n","lineHeight":21},"encoding":{"text":{"field":"t"}}},
  {"data":{"values":[{"r":11.83,"h":-1.051,"t":"(4x vertical exaggeration)"}]},"mark":{"type":"text","align":"right","baseline":"middle","fontStyle":"italic","fontSize":16},"encoding":{"text":{"field":"t"}}}
 ]
},
{
 "width": 1150, "height": 195,
 "view": {"stroke": null},
 "encoding": {
  "x": {"field":"lx","type":"quantitative","scale":{"domain":[59.3,1209.3],"nice":false,"zero":false},"axis":null},
  "y": {"field":"ly","type":"quantitative","scale":{"domain":[875,1070],"nice":false,"zero":false,"reverse":true},"axis":null}
 },
 "layer": [
  {"data":{"name":"lSep"},"mark":{"type":"rule","color":"#d0d0d0","strokeWidth":1.5},"encoding":{"x2":{"field":"lx2"},"y2":{"field":"ly2"}}},
  {"data":{"name":"lArrow"},"mark":{"type":"rule","color":"black","strokeWidth":2},"encoding":{"x2":{"field":"lx2"},"y2":{"field":"ly2"}}},
  {"data":{"name":"lHead"},"mark":{"type":"point","shape":"M-1,-0.7L0,0L-1,0.7","size":110,"filled":false,"stroke":"black","strokeWidth":2,"opacity":1},"encoding":{}},
  {"data":{"name":"llC"},"mark":{"type":"line","strokeWidth":2},"encoding":{"color":{"field":"s","type":"nominal","legend":null,"scale":{"domain":["L1","L2","L3","L4","L5","H1","H2","H3","P0","P025","P066","P13","G0","G05","G1","G2","G3"],"range":["#8e2a1f","#cfa83b","#a5b79c","#1a80a6","#1c1a6a","#8e2a1f","#a9bca3","#1c1a6a","#2160a0","#4b7b96","#a1a49b","#c7c684","#1d62a1","#50808f","#a0a498","#c9c78e","#d8d6a9"]}}}},
  {"data":{"name":"llH"},"mark":{"type":"line","strokeWidth":2,"strokeDash":[7,4]},"encoding":{"color":{"field":"s","type":"nominal","legend":null,"scale":{"domain":["L1","L2","L3","L4","L5","H1","H2","H3","P0","P025","P066","P13","G0","G05","G1","G2","G3"],"range":["#8e2a1f","#cfa83b","#a5b79c","#1a80a6","#1c1a6a","#8e2a1f","#a9bca3","#1c1a6a","#2160a0","#4b7b96","#a1a49b","#c7c684","#1d62a1","#50808f","#a0a498","#c9c78e","#d8d6a9"]}}}},
  {"data":{"name":"llP"},"mark":{"type":"line","strokeWidth":1.6,"strokeDash":[4,2.5]},"encoding":{"color":{"field":"s","type":"nominal","legend":null,"scale":{"domain":["L1","L2","L3","L4","L5","H1","H2","H3","P0","P025","P066","P13","G0","G05","G1","G2","G3"],"range":["#8e2a1f","#cfa83b","#a5b79c","#1a80a6","#1c1a6a","#8e2a1f","#a9bca3","#1c1a6a","#2160a0","#4b7b96","#a1a49b","#c7c684","#1d62a1","#50808f","#a0a498","#c9c78e","#d8d6a9"]}}}},
  {"data":{"name":"llF"},"mark":{"type":"line","strokeWidth":1.6,"color":"#777777"},"encoding":{"strokeDash":{"field":"s","type":"nominal","legend":null,"scale":{"domain":["f20","f15","f10","f5","f3"],"range":[[1,0],[9,4],[6,4],[5,3,1,3],[3,2]]}}}},
  {"data":{"name":"llHaug"},"mark":{"type":"line","strokeWidth":5,"color":"#c9c9c9"},"encoding":{}},
  {"data":{"name":"llNat"},"mark":{"type":"line","strokeWidth":4,"color":"black"},"encoding":{}},
  {"data":{"name":"ltL"},"mark":{"type":"text","align":"left","baseline":"middle","fontSize":16},"encoding":{"text":{"field":"t"}}},
  {"data":{"name":"ltR"},"mark":{"type":"text","align":"right","baseline":"middle","fontSize":16},"encoding":{"text":{"field":"t"}}},
  {"data":{"name":"ltC"},"mark":{"type":"text","align":"center","baseline":"middle","fontSize":16},"encoding":{"text":{"field":"t"}}},
  {"data":{"name":"ltIC"},"mark":{"type":"text","align":"center","baseline":"middle","fontSize":16,"fontStyle":"italic"},"encoding":{"text":{"field":"t"}}},
  {"data":{"name":"ltIL"},"mark":{"type":"text","align":"left","baseline":"middle","fontSize":16,"fontStyle":"italic"},"encoding":{"text":{"field":"t"}}}
 ]
}
]
}
